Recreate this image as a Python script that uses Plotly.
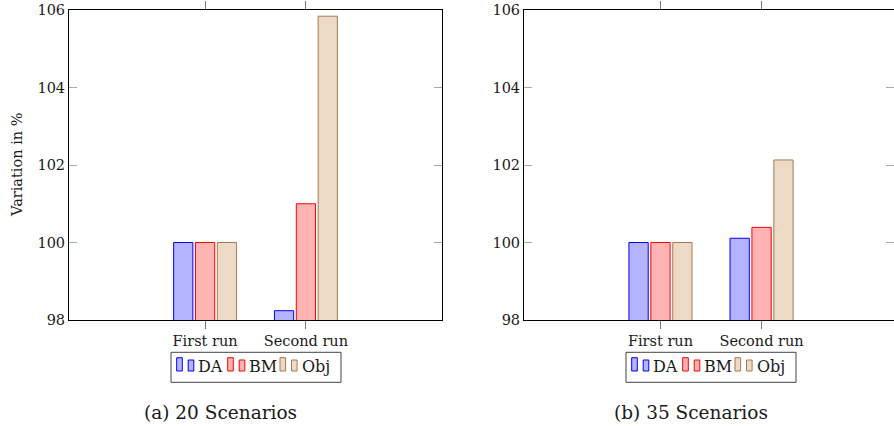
import plotly.graph_objects as go

# ---------------- data ----------------
categories = ["First run", "Second run"]
series_names = ["DA", "BM", "Obj"]
da_20 = [100.0, 98.24]
bm_20 = [100.0, 101.0]
obj_20 = [100.0, 105.84]
da_35 = [100.0, 100.11]
bm_35 = [100.0, 100.39]
obj_35 = [100.0, 102.13]
y_ticks = [98, 100, 102, 104, 106]
captions = ["(a) 20 Scenarios", "(b) 35 Scenarios"]
y_title = "Variation in %"

# ---------------- style ----------------
W, H = 894, 426
FONT = "DejaVu Serif"
TXT = "#1a1a1a"
fills = ["rgb(179,179,255)", "rgb(255,179,179)", "rgb(236,217,198)"]
lines = ["rgb(0,0,255)", "rgb(255,0,0)", "rgb(166,123,84)"]


def px2x(px):
    return px / W


def py2y(py):
    return 1 - py / H


fig = go.Figure()

panels = [
    (dict(xaxis="x", yaxis="y"), [da_20, bm_20, obj_20]),
    (dict(xaxis="x2", yaxis="y2"), [da_35, bm_35, obj_35]),
]
for axes, vals in panels:
    for name, v, fc, lc in zip(series_names, vals, fills, lines):
        fig.add_trace(go.Bar(
            x=categories, y=v, name=name, showlegend=False,
            marker=dict(color=fc, line=dict(color=lc, width=1)),
            **axes))

plot_top, plot_bot = 10, 320
xdom1 = [px2x(69), px2x(442)]
xdom2 = [px2x(524), 1.0]
ydom = [py2y(plot_bot), py2y(plot_top)]

xcommon = dict(type="category", showline=True, linecolor="black", linewidth=1,
               mirror="ticks", ticks="outside", ticklen=8, tickcolor="#777",
               tickwidth=1, showgrid=False, zeroline=False, automargin=False,
               tickfont=dict(family=FONT, size=14.5, color=TXT))
ycommon = dict(range=[98, 106], tickvals=y_ticks, showline=True, linecolor="black",
               linewidth=1, mirror="ticks", ticks="inside", ticklen=8,
               tickcolor="#aaa", tickwidth=1, showgrid=False, zeroline=False,
               automargin=False,
               tickfont=dict(family=FONT, size=14.5, color=TXT))

fig.update_layout(
    template="none",
    width=W, height=H,
    margin=dict(l=0, r=0, t=0, b=0, autoexpand=False),
    plot_bgcolor="white", paper_bgcolor="white",
    showlegend=False,
    barmode="group", bargap=0.35, bargroupgap=0.12,
    xaxis=dict(domain=xdom1, range=[-1.35, 2.35], anchor="y", **xcommon),
    yaxis=dict(domain=ydom, anchor="x", **ycommon),
    xaxis2=dict(domain=xdom2, range=[-1.35, 2.31], anchor="y2", **xcommon),
    yaxis2=dict(domain=ydom, anchor="x2", **ycommon),
    font=dict(family=FONT, color=TXT),
)

annotations = []
shapes = []

# y-axis title
annotations.append(dict(text=y_title, x=px2x(17), y=py2y((plot_top + plot_bot) / 2),
                        xref="paper", yref="paper", showarrow=False, textangle=-90,
                        xanchor="center", yanchor="middle",
                        font=dict(family=FONT, size=14.5, color=TXT)))

# captions
for cap, cx in zip(captions, [220, 691]):
    annotations.append(dict(text=cap, x=px2x(cx), y=py2y(412), xref="paper", yref="paper",
                            showarrow=False, xanchor="center", yanchor="middle",
                            font=dict(family=FONT, size=18.5, color=TXT)))

# legends (pgfplots style: boxed, two small bars per entry)
icon_offsets = [5.7, 56.7, 109.0]
for lx in [171, 626]:
    ly0, ly1 = 352.3, 382.3
    shapes.append(dict(type="rect", xref="paper", yref="paper",
                       x0=px2x(lx), x1=px2x(lx + 170), y0=py2y(ly1), y1=py2y(ly0),
                       line=dict(color="#444", width=1), fillcolor="white"))
    for name, off, fc, lc in zip(series_names, icon_offsets, fills, lines):
        for dx, top in [(0, 357.7), (11.5, 360.0)]:
            shapes.append(dict(type="rect", xref="paper", yref="paper",
                               x0=px2x(lx + off + dx), x1=px2x(lx + off + dx + 5.6),
                               y0=py2y(371), y1=py2y(top),
                               line=dict(color=lc, width=1), fillcolor=fc))
        annotations.append(dict(text=name, x=px2x(lx + off + 19.5), y=py2y(366.5),
                                xref="paper", yref="paper", showarrow=False,
                                xanchor="left", yanchor="middle",
                                font=dict(family=FONT, size=16, color=TXT)))

fig.update_layout(annotations=annotations, shapes=shapes)

fig.write_html("out.html")
